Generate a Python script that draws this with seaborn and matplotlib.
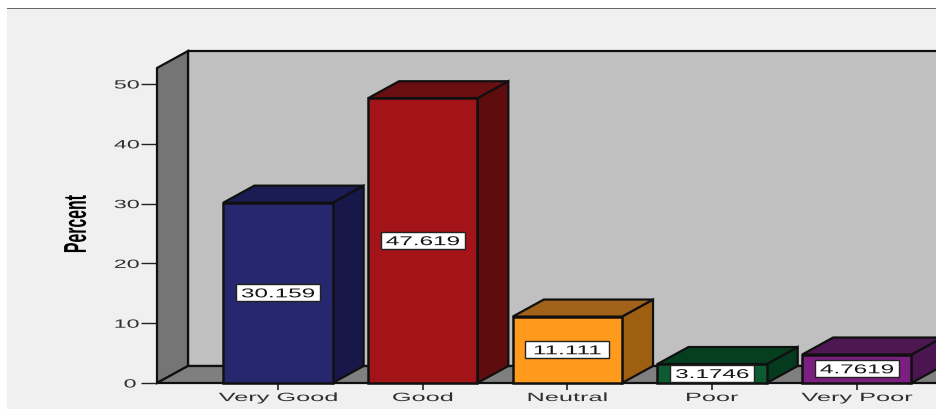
import matplotlib
matplotlib.use("Agg")
import matplotlib.pyplot as plt
import seaborn as sns
import pandas as pd
from matplotlib.patches import Polygon, Rectangle
from matplotlib.patheffects import AbstractPathEffect
from matplotlib.transforms import Affine2D

categories = ["Very Good", "Good", "Neutral", "Poor", "Very Poor"]
percent = [30.159, 47.619, 11.111, 3.1746, 4.7619]
value_labels = ["30.159", "47.619", "11.111", "3.1746", "4.7619"]
y_ticks = [0, 10, 20, 30, 40, 50]
front_colors = ["#27276F", "#A21417", "#FF9A1C", "#0D5C31", "#7B2080"]
side_colors = ["#17174A", "#5F0C0E", "#9E5F10", "#053A1E", "#4A1550"]
top_colors = ["#1C1C55", "#6A0F11", "#A3621A", "#063F20", "#4E1752"]

W, H = 936, 409
PX_X = 144.7      # pixels per category
PX_Y = 5.98       # pixels per percent
DX = 31 / PX_X    # depth offset in data units
DY = 17 / PX_Y
INK = "#101010"


class StretchX(AbstractPathEffect):
    """Widen a text horizontally about its own centre, like the source image."""
    def __init__(self, sx):
        super().__init__()
        self.sx = sx

    def draw_path(self, renderer, gc, tpath, affine, rgbFace=None):
        ext = tpath.transformed(affine).get_extents()
        cx = (ext.x0 + ext.x1) / 2
        a = affine + Affine2D().translate(-cx, 0).scale(self.sx, 1).translate(cx, 0)
        renderer.draw_path(gc, tpath, a, rgbFace)


sns.set_theme(style="white")
plt.rcParams["font.family"] = ["Liberation Sans", "DejaVu Sans"]

fig = plt.figure(figsize=(W / 100, H / 100), dpi=100, facecolor="white")
fig.add_artist(Rectangle((7 / W, 0), 1 - 7 / W, (H - 8) / H, transform=fig.transFigure,
                         facecolor="#F0F0F0", edgecolor="none", zorder=-10))
fig.add_artist(Rectangle((7 / W, (H - 9) / H), 1 - 7 / W, 1.5 / H, transform=fig.transFigure,
                         facecolor="#666666", edgecolor="none", zorder=-9))

ax = fig.add_axes([157 / W, (H - 383) / H, (W - 157) / W, 315 / H])
ax.patch.set_alpha(0)
df = pd.DataFrame({"cat": categories, "pct": percent})
sns.barplot(data=df, x="cat", y="pct", hue="cat", palette=front_colors, dodge=False,
            width=0.755, legend=False, saturation=1, ax=ax, zorder=5,
            edgecolor=INK, linewidth=1.8)

x0 = (157 - 278) / PX_X
x1 = (W - 278) / PX_X + 0.3
ytop = 315 / PX_Y
ax.set_xlim(x0, (W - 278) / PX_X)
ax.set_ylim(0, ytop)


def poly(pts, fc, z, lw=1.6):
    ax.add_patch(Polygon(pts, closed=True, facecolor=fc, edgecolor=INK, linewidth=lw,
                         zorder=z, clip_on=False))


# walls and floor
poly([(x0 + DX, DY), (x1, DY), (x1, ytop + DY), (x0 + DX, ytop + DY)], "#C0C0C0", 1)
poly([(x0, 0), (x0 + DX, DY), (x0 + DX, ytop + DY), (x0, ytop)], "#757575", 2)
poly([(x0, 0), (x1, 0), (x1, DY), (x0 + DX, DY)], "#7F7F7F", 2)

# extruded bars, built from the seaborn bars
bars = sorted([p for p in ax.patches if isinstance(p, Rectangle)], key=lambda p: p.get_x())
for i, bar in enumerate(bars):
    bar.set_clip_on(False)
    l, r, h = bar.get_x(), bar.get_x() + bar.get_width(), bar.get_height()
    poly([(r, 0), (r + DX, DY), (r + DX, h + DY), (r, h)], side_colors[i], 4)
    poly([(l, h), (r, h), (r + DX, h + DY), (l + DX, h + DY)], top_colors[i], 4)
    box_w, box_h = 84 / PX_X, 17 / PX_Y
    c = l + (r - l) / 2
    ax.add_patch(Rectangle((c - box_w / 2, h / 2 - box_h / 2), box_w, box_h, facecolor="white",
                           edgecolor="#222222", linewidth=1.0, zorder=6, clip_on=False))
    ax.text(c, h / 2, value_labels[i], ha="center", va="center_baseline", fontsize=9.2,
            color="#151515", zorder=7, path_effects=[StretchX(1.9)])

for s in ax.spines.values():
    s.set_visible(False)
ax.set_xlabel("")
ax.set_ylabel("")
ax.set_yticks(y_ticks)
ax.set_yticklabels([str(t) for t in y_ticks], fontsize=8.6, color="#303030",
                   path_effects=[StretchX(1.95)])
ax.set_xticks(range(len(categories)))
ax.set_xticklabels(categories, fontsize=8.6, color="#303030", path_effects=[StretchX(2.12)])
ax.tick_params(axis="y", left=True, length=11.5, width=1, color="#222222", pad=5.5)
ax.tick_params(axis="x", bottom=True, length=5, width=1.2, color="#222222", pad=1.5)

fig.text(76 / W, (H - 224) / H, "Percent", rotation=90, ha="center", va="center",
         fontsize=11.4, fontweight="bold", color="black", path_effects=[StretchX(2.0)])

fig.savefig("out.png", dpi=100, facecolor=fig.get_facecolor())
